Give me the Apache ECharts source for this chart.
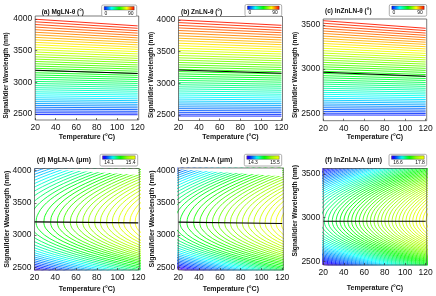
<!DOCTYPE html>
<html><head><meta charset="utf-8">
<script src="https://cdn.jsdelivr.net/npm/echarts@6.0.0/dist/echarts.min.js"></script>
<style>html,body{margin:0;padding:0;background:#fff;}#chart{width:436px;height:296px;}</style>
</head><body><div id="chart"></div>
<script>
// ================= DATA =================
const tempTicks = [20, 40, 60, 80, 100, 120];
const tempEnds = [20, 120];
const wlTicksHigh = [2500, 3000, 3500, 4000];
const wlTicksLow = [2500, 3000, 3500];

// Top row: θ contour levels (°) and the wavelength (nm) of each contour at 20 °C and 120 °C
const thetaLevels = [2,4,6,8,10,12,14,16,18,20,22,24,26,28,30,32,34,36,38,40,42,44,46,48,50,52,54,56,58,60,62,64,66,68,70,72,74,76,78,80,82,84,86,88];
const thetaBarLabels = ['0', '90'];

const aWlAt20 = [2491,2519,2548,2576,2606,2635,2665,2695,2725,2756,2787,2819,2850,2883,2915,2948,2981,3014,3048,3082,3116,3151,3186,3221,3257,3293,3329,3366,3403,3440,3478,3516,3554,3593,3631,3671,3710,3750,3790,3831,3872,3913,3955,3996];
const aWlAt120 = [2488,2515,2542,2569,2597,2625,2653,2682,2710,2739,2769,2799,2828,2859,2889,2920,2951,2982,3013,3045,3077,3110,3142,3175,3208,3242,3275,3310,3344,3378,3413,3449,3484,3520,3555,3592,3628,3665,3702,3739,3777,3815,3853,3891];
const aDegWl = [3190, 3140];

const bWlAt20 = [2484,2512,2542,2570,2600,2629,2660,2690,2720,2751,2783,2815,2846,2879,2912,2945,2978,3011,3046,3080,3114,3149,3185,3220,3256,3292,3329,3366,3403,3440,3479,3517,3555,3594,3633,3673,3712,3752,3793,3834,3875,3916,3959,4000];
const bWlAt120 = [2482,2509,2537,2564,2593,2621,2651,2679,2708,2738,2768,2799,2828,2860,2891,2923,2954,2985,3018,3051,3083,3116,3150,3183,3217,3251,3286,3321,3356,3391,3427,3463,3499,3536,3572,3610,3646,3684,3722,3761,3799,3837,3878,3916];
const bDegWl = [3211, 3158];

const cWlAt20 = [2481,2501,2521,2542,2563,2584,2605,2627,2648,2670,2692,2715,2737,2760,2783,2806,2830,2853,2877,2902,2926,2951,2975,3001,3026,3051,3077,3103,3129,3156,3182,3209,3236,3264,3291,3319,3347,3375,3404,3432,3461,3490,3520,3549];
const cWlAt120 = [2479,2498,2516,2536,2556,2576,2595,2616,2636,2656,2677,2698,2719,2740,2762,2783,2805,2827,2849,2872,2894,2917,2939,2963,2986,3009,3033,3057,3081,3105,3129,3154,3178,3204,3229,3254,3280,3305,3331,3357,3383,3409,3437,3463];
const cDegWl = [2965, 2920];

// Bottom row: Λ contours. Each contour has the same arc profile (temperature offset from its apex
// at each wavelength), shifted to its apex temperature on the degeneracy line.
const dShapeWl = [2430,2500,2600,2700,2800,2900,3000,3100,3150,3198,3250,3300,3400,3500,3600,3700,3800,3900,4000,4070];
const dShapeDT = [123.9,102.3,75.1,52.1,33.3,18.6,8.2,2.0,0.5,0,0.3,1.1,4.5,10.0,17.8,27.7,39.9,54.2,70.8,83.6];
const dApexT = [-97,-90,-83,-76,-69,-62,-55,-48,-41,-34,-27,-20,-13,-6,1,8,15,21.5,29,35.5,42,48,54.5,60.5,66.5,72,78,83.5,89.5,95,101,106,112,117];
const dLevels = [14.10,14.14,14.18,14.22,14.26,14.30,14.34,14.38,14.42,14.45,14.49,14.53,14.57,14.61,14.65,14.69,14.73,14.77,14.81,14.85,14.89,14.93,14.97,15.01,15.05,15.09,15.12,15.16,15.20,15.24,15.28,15.32,15.36,15.40];
const dRange = [14.1, 15.4];
const dDataTop = [4040, 3935];
const dDegWl = [3205, 3190];

const eShapeWl = [2430,2500,2600,2700,2800,2900,3000,3100,3140,3188,3240,3290,3390,3490,3590,3690,3790,3890,3990,4070];
const eShapeDT = [120.1,98.9,72.3,49.8,31.5,17.3,7.4,1.6,0.5,0,0.3,1.2,4.6,10.2,18.1,28.2,40.6,55.2,72.0,87.1];
const eApexT = [-86.6,-80.9,-75.2,-69.5,-63.8,-58.1,-52.4,-46.7,-41,-35.3,-29.6,-23.9,-18.2,-12.5,-6.8,-1.1,4.6,10.3,16,21.7,28.3,34.8,40.7,47,52.8,58.7,64.6,70.1,76,81.6,87.2,92.7,98.3,103.5,108.8,114,118.9];
const eLevels = [14.30,14.33,14.37,14.40,14.43,14.47,14.50,14.53,14.57,14.60,14.63,14.67,14.70,14.73,14.77,14.80,14.83,14.87,14.90,14.93,14.97,15.00,15.03,15.07,15.10,15.13,15.17,15.20,15.23,15.27,15.30,15.33,15.37,15.40,15.43,15.47,15.50];
const eRange = [14.3, 15.5];
const eDataTop = [4015, 3910];
const eDegWl = [3199, 3177];

const fShapeWl = [2430,2500,2600,2700,2800,2880,2920,2957,2995,3040,3100,3200,3300,3400,3500,3600];
const fShapeDT = [101.9,76.6,46.8,24.2,9.0,2.2,0.5,0,0.3,1.5,4.5,13.1,26.1,43.6,65.5,91.8];
const fApexT = [-68.7,-64.8,-60.9,-57,-53.1,-49.2,-45.3,-41.4,-37.5,-33.6,-29.7,-25.8,-21.9,-18,-14.1,-10.2,-6.3,-2.4,1.5,5.4,9.3,13.2,17.1,21,24.9,28.8,32.6,36.4,40.2,44,47.7,51.4,55.1,58.8,62.4,66,69.6,73.2,76.7,80.2,83.7,87.2,90.6,94,97.4,100.8,104.1,107.4,110.7,114,117.3,120.5];
const fLevels = [16.60,16.62,16.65,16.67,16.69,16.72,16.74,16.76,16.79,16.81,16.84,16.86,16.88,16.91,16.93,16.95,16.98,17.00,17.02,17.05,17.07,17.09,17.12,17.14,17.16,17.19,17.21,17.24,17.26,17.28,17.31,17.33,17.35,17.38,17.40,17.42,17.45,17.47,17.49,17.52,17.54,17.56,17.59,17.61,17.64,17.66,17.68,17.71,17.73,17.75,17.78,17.80];
const fRange = [16.6, 17.8];
const fDataTop = [3570, 3570];
const fDegWl = [2957, 2957];

// ================= LAYOUT / STYLE =================
const FONT = '"Liberation Sans", Arial, sans-serif';
// colour maps: [fraction, hue]
const thetaHue = [[0,240],[0.25,180],[0.5,120],[0.75,60],[1,0]];
const periodHue = [[0,260],[0.1,232],[0.3,185],[0.5,130],[0.75,85],[1,60]];
function hueAt(map, f){
  f = Math.max(0, Math.min(1, f));
  for (let i = 1; i < map.length; i++) {
    if (f <= map[i][0]) { const t = (f - map[i-1][0])/(map[i][0]-map[i-1][0]); return map[i-1][1] + t*(map[i][1]-map[i-1][1]); }
  }
  return map[map.length-1][1];
}
const hsl = h => 'hsl(' + h.toFixed(1) + ',100%,50%)';
function thetaColor(v){ return hsl(hueAt(thetaHue, v/90)); }
function periodColor(v, r){ return hsl(hueAt(periodHue, (v - r[0])/(r[1]-r[0]))); }
function barStops(map){ const out = []; for (let k = 0; k <= 20; k++) { out.push({offset:k/20, color:hsl(hueAt(map, k/20))}); } return out; }

const panels = [
  {kind:'theta', title:'(a) MgLN-θ (°)', at20:aWlAt20, at120:aWlAt120, deg:aDegWl,
   grid:{left:35.2, top:16, width:103.5, height:104}, y:[2405,4047], yTicks:wlTicksHigh,
   tFont:6.5, tXY:[41.7,12.7], yTitleXY:[6,75.5], yFont:6.3, xTitleY:136.7,
   bar:{x:101.7,y:5,w:35,h:11.5,labels:thetaBarLabels,lx:[106,130.7]}},
  {kind:'theta', title:'(b) ZnLN-θ (°)', at20:bWlAt20, at120:bWlAt120, deg:bDegWl,
   grid:{left:178.5, top:16.5, width:104, height:104}, y:[2413,4055], yTicks:wlTicksHigh,
   tFont:6.5, tXY:[181,12.7], yTitleXY:[151.7,75], yFont:6.3, xTitleY:136.7,
   bar:{x:245,y:4.5,w:36.7,h:11.7,labels:thetaBarLabels,lx:[250,275]}},
  {kind:'theta', title:'(c) InZnLN-θ (°)', at20:cWlAt20, at120:cWlAt120, deg:cDegWl,
   grid:{left:323.2, top:19, width:103.5, height:101.7}, y:[2416,3568], yTicks:wlTicksLow,
   tFont:6.5, tXY:[325,11.7], yTitleXY:[295,75], yFont:6.3, xTitleY:137.3,
   bar:{x:389.3,y:4.5,w:37.4,h:11.7,labels:thetaBarLabels,lx:[394,420]}},
  {kind:'period', title:'(d) MgLN-Λ (μm)', shapeWl:dShapeWl, shapeDT:dShapeDT, apex:dApexT, levels:dLevels, range:dRange, top:dDataTop, deg:dDegWl,
   grid:{left:34.5, top:168.5, width:104.8, height:101.5}, y:[2458,4034], yTicks:wlTicksHigh,
   tFont:7, tXY:[36.7,160], yTitleXY:[6.7,219.2], yFont:7.1, xTitleY:289,
   bar:{x:100,y:154.3,w:37.7,h:11.7,labels:[String(dRange[0]),String(dRange[1])],lx:[109,130.7]}},
  {kind:'period', title:'(e) ZnLN-Λ (μm)', shapeWl:eShapeWl, shapeDT:eShapeDT, apex:eApexT, levels:eLevels, range:eRange, top:eDataTop, deg:eDegWl,
   grid:{left:178.3, top:168, width:105, height:102}, y:[2458,4036], yTicks:wlTicksHigh,
   tFont:7, tXY:[180,160], yTitleXY:[151.7,219], yFont:7.1, xTitleY:289,
   bar:{x:244.3,y:154.3,w:37.4,h:11.7,labels:[String(eRange[0]),String(eRange[1])],lx:[253,275]}},
  {kind:'period', title:'(f) InZnLN-Λ (μm)', shapeWl:fShapeWl, shapeDT:fShapeDT, apex:fApexT, levels:fLevels, range:fRange, top:fDataTop, deg:fDegWl,
   grid:{left:323.3, top:168.5, width:103.4, height:96.5}, y:[2458,3560], yTicks:wlTicksLow,
   tFont:7, tXY:[325,160], yTitleXY:[295,210.8], yFont:6.7, xTitleY:287.7,
   bar:{x:389,y:154.3,w:37.7,h:11.7,labels:[String(fRange[0]),String(fRange[1])],lx:[398,420]}}
];

const grids = [], xAxes = [], yAxes = [], series = [], graphics = [];
panels.forEach((p, i) => {
  grids.push(Object.assign({show:true, z:10, borderColor:'#444', borderWidth:0.7, backgroundColor:'rgba(0,0,0,0)'}, p.grid));
  xAxes.push({gridIndex:i, type:'value', min:20, max:121, z:10,
    axisLine:{show:false}, splitLine:{show:false},
    axisTick:{inside:true, length:2, customValues:tempTicks, lineStyle:{color:'#333', width:0.7}},
    axisLabel:{customValues:tempTicks, fontSize:8.5, color:'#111', margin:3, fontFamily:FONT, formatter:v => String(v)}});
  yAxes.push({gridIndex:i, type:'value', min:p.y[0], max:p.y[1], z:10,
    axisLine:{show:false}, splitLine:{show:false},
    axisTick:{inside:true, length:2, customValues:p.yTicks, lineStyle:{color:'#333', width:0.7}},
    axisLabel:{customValues:p.yTicks, fontSize:8.5, color:'#111', margin:3, fontFamily:FONT, formatter:v => String(v)}});

  if (p.kind === 'theta') {
    thetaLevels.forEach((lv, k) => {
      series.push({type:'line', xAxisIndex:i, yAxisIndex:i, silent:true, symbol:'none', z:2,
        data:[[tempEnds[0], p.at20[k]], [tempEnds[1], p.at120[k]]],
        lineStyle:{width:0.9, color:thetaColor(lv)}});
    });
  } else {
    p.apex.forEach((a, k) => {
      series.push({type:'line', xAxisIndex:i, yAxisIndex:i, silent:true, symbol:'none', z:2, smooth:0.35, clip:true,
        data:p.shapeWl.map((w, j) => [a + p.shapeDT[j], w]),
        lineStyle:{width:0.9, color:periodColor(p.levels[k], p.range)}});
    });
    // blank region above the data domain
    series.push({type:'line', xAxisIndex:i, yAxisIndex:i, silent:true, symbol:'none', z:3,
      data:[[tempEnds[0], p.top[0]], [tempEnds[1], p.top[1]]],
      lineStyle:{width:0}, areaStyle:{color:'#fff', opacity:1, origin:'end'}});
  }
  // degeneracy line
  series.push({type:'line', xAxisIndex:i, yAxisIndex:i, silent:true, symbol:'none', z:4,
    data:[[tempEnds[0], p.deg[0]], [tempEnds[1], p.deg[1]]],
    lineStyle:{width:1.1, color:'#000'}});

  // titles
  graphics.push({type:'text', x:p.tXY[0], y:p.tXY[1], style:{text:p.title, font:'bold ' + p.tFont + 'px ' + FONT, fill:'#111', textAlign:'left', textVerticalAlign:'middle', align:'left', verticalAlign:'middle'}});
  graphics.push({type:'text', x:p.yTitleXY[0], y:p.yTitleXY[1], rotation:Math.PI/2, style:{text:'Signal/Idler Wavelength (nm)', font:'bold ' + p.yFont + 'px ' + FONT, fill:'#111', textAlign:'center', textVerticalAlign:'middle', align:'center', verticalAlign:'middle'}});
  graphics.push({type:'text', x:p.grid.left + p.grid.width/2, y:p.xTitleY, style:{text:'Temperature (°C)', font:'bold 7px ' + FONT, fill:'#111', textAlign:'center', textVerticalAlign:'middle', align:'center', verticalAlign:'middle'}});
  // colour bar legend
  const b = p.bar;
  const stops = barStops(p.kind === 'theta' ? thetaHue : periodHue);
  graphics.push({type:'rect', shape:{x:b.x, y:b.y, width:b.w, height:b.h, r:1.5}, style:{fill:'#fff', stroke:'#999', lineWidth:0.8}, z:20});
  graphics.push({type:'rect', shape:{x:b.x + 2.5, y:b.y + 1.5, width:b.w - 5, height:3.5}, style:{fill:new echarts.graphic.LinearGradient(0,0,1,0,stops), stroke:'#333', lineWidth:0.4}, z:21});
  b.labels.forEach((t, j) => {
    graphics.push({type:'text', x:b.lx[j], y:b.y + 8.5, z:21, style:{text:t, font:'5px ' + FONT, fill:'#111', textAlign:'center', textVerticalAlign:'middle', align:'center', verticalAlign:'middle'}});
  });
});

const chart = echarts.init(document.getElementById('chart'), null, {renderer:'canvas', devicePixelRatio:1});
chart.setOption({animation:false, backgroundColor:'#fff', grid:grids, xAxis:xAxes, yAxis:yAxes, series:series, graphic:graphics});
</script></body></html>
